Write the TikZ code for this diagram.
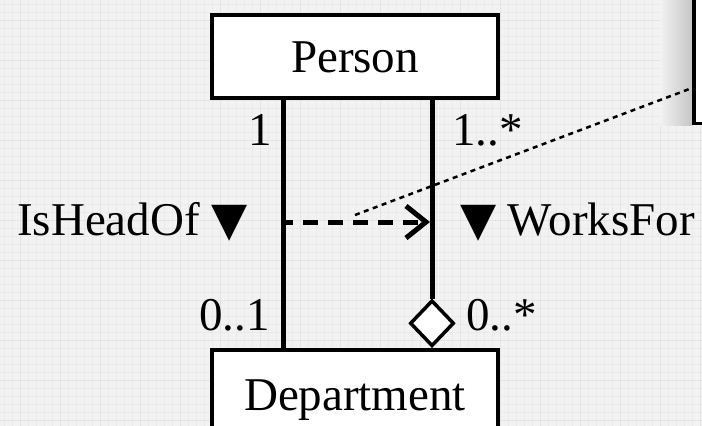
\documentclass[tikz,border=0pt]{standalone}
\usepackage{fontspec}
\setmainfont{Liberation Serif}
\newfontfamily\dv{DejaVu Sans}
\usetikzlibrary{arrows.meta,shapes.geometric,calc}
\definecolor{bgc}{HTML}{F2F2F2}
\definecolor{gridc}{HTML}{EAEAEA}
\definecolor{gridmaj}{HTML}{E4E4E4}
\begin{document}
\begin{tikzpicture}[x=1pt,y=-1pt,
  umlbox/.style={draw=black, fill=white, line width=3.5pt, minimum width=286pt,
    inner xsep=0pt, font=\fontsize{47}{56}\selectfont, text height=32pt, text depth=0pt},
  lbl/.style={font=\fontsize{47}{56}\selectfont, inner sep=0pt},
  assoc/.style={line width=5pt},
  dep/.style={line width=5pt, dash pattern=on 15pt off 10pt, dash phase=5pt,
    -{Straight Barb[length=20pt,width=32pt,line width=5pt]}},
  anchorline/.style={line width=2.5pt, dash pattern=on 5pt off 4.5pt},
  gridminor/.style={draw=gridc, line width=0.8pt},
  gridmajor/.style={draw=gridmaj, line width=1pt}
]
\useasboundingbox (0,0) rectangle (702,426);
\begin{scope}
\clip (0,0) rectangle (702,426);
\fill[bgc] (0,0) rectangle (702,426);
\foreach \i in {4,12,...,704} \draw[gridminor] (\i,0) -- (\i,426);
\foreach \j in {4,12,...,428} \draw[gridminor] (0,\j) -- (702,\j);
\foreach \i in {20,60,...,704} \draw[gridmajor] (\i,0) -- (\i,426);
\foreach \j in {20,60,...,428} \draw[gridmajor] (0,\j) -- (702,\j);

% note box (partly outside the picture) with its shadow
\shade[left color=bgc, right color=gray!45] (660,0) rectangle (692,125);
\node[draw=black, fill=white, line width=3.5pt, anchor=south west,
      minimum width=80pt, minimum height=160pt] (note) at (692,125) {};

% classes
\node[umlbox, anchor=north, inner ysep=25.5pt] (person) at (355,13) {Person};
\node[umlbox, anchor=north, inner ysep=29pt, text depth=60pt] (dept) at (355,348) {Department};

% aggregation diamond
\node[diamond, draw=black, fill=white, line width=3.5pt, minimum width=44pt,
      minimum height=46pt, inner sep=0pt, anchor=south] (agg) at (432,348) {};

% associations
\coordinate (lx) at (283,0);
\draw[assoc] (person.south -| lx) -- (dept.north -| lx);
\draw[assoc] (person.south -| agg.north) -- (agg.north);

% dependency between the associations
\coordinate (depstart) at (283,222);
\coordinate (depend) at (430,222);
\draw[dep] (depstart) -- (depend);

% anchor line to the note
\coordinate (dotstart) at (355,215);
\draw[anchorline] (dotstart) -- ($(note.south west)+(0,-37)$);

% labels
\node[lbl, anchor=base west] (m1) at (248,145) {1};
\node[lbl, anchor=base west] (m2) at (452,145) {1..*};
\node[lbl, anchor=base west] (m3) at (199,330) {0..1};
\node[lbl, anchor=base west] (m4) at (466,330) {0..*};
\node[lbl, anchor=base west] (r1) at (17,235) {IsHeadOf {\dv ▼}};
\node[lbl, anchor=base east] (r2) at (695,235) {{\dv ▼} WorksFor};
\end{scope}
\end{tikzpicture}
\end{document}
